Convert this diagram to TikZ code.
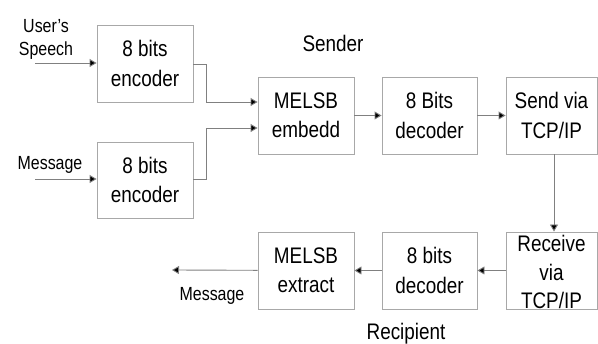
\documentclass[tikz,border=0pt]{standalone}
\usepackage{fontspec}
\setmainfont{Liberation Sans}[FakeStretch=0.84]
\usetikzlibrary{arrows.meta}
\definecolor{boxline}{gray}{0.66}
\definecolor{wire}{gray}{0.5}
\tikzset{
  blk/.style={draw=boxline, line width=0.9pt, minimum width=#1, align=center,
              font=\fontsize{22.5}{29.5}\selectfont, inner sep=0pt},
  blk/.default=96pt,
  wirearrow/.style={draw=wire, line width=0.9pt,
                    -{Triangle[length=7pt,width=8pt,fill=black]}},
  lbl/.style={font=\fontsize{19}{23}\selectfont, inner sep=0pt, align=center},
  caption/.style={font=\fontsize{22.5}{26}\selectfont, inner sep=0pt}
}
\begin{document}
\begin{tikzpicture}[x=1pt, y=-1pt]
  \useasboundingbox (0,0) rectangle (598,344);

  % sender chain
  \node[blk, minimum height=77pt] (enc1) at (145,63.5) {8 bits\\encoder};
  \node[blk, minimum height=76pt] (enc2) at (145,180) {8 bits\\encoder};
  \node[blk, minimum height=77pt] (emb) at (306,115.5) {MELSB\\embedd};
  \node[blk=95pt, minimum height=77pt] (dec1) at (429.5,115.5) {8 Bits\\decoder};
  \node[blk=91pt, minimum height=77pt] (send) at (551.5,115.5) {Send via\\TCP/IP};

  % recipient chain
  \node[blk=91pt, minimum height=77pt] (recv) at (551.5,270.5) {};
  \node[font=\fontsize{22.5}{28.5}\selectfont, align=center, inner sep=0pt] (recvtxt) at (551.5,272)
    {Receive\\via\\TCP/IP};
  \node[blk=95pt, minimum height=77pt] (dec2) at (429.5,270.5) {8 bits\\decoder};
  \node[blk, minimum height=77pt] (ext) at (306,270.5) {MELSB\\extract};

  % captions and input/output labels
  \node[caption] (sender) at (333,43) {Sender};
  \node[caption] (recipient) at (406,334) {Recipient};
  \node[lbl] (speech) at (46,39) {User's\\Speech};
  \node[lbl] (msgin) at (50,165) {Message};
  \node[lbl] (msgout) at (212,296) {Message};

  \coordinate (speechstart) at (35,63);
  \coordinate (msgstart) at (35,179);
  \coordinate (msgend) at (172,270);

  % inputs
  \draw[wirearrow] (speechstart) -- (enc1.west |- speechstart);
  \draw[wirearrow] (msgstart) -- (enc2.west |- msgstart);

  % encoders into the embedder
  \draw[wirearrow] (enc1.east |- 0,64) -- (206,64) |- (emb.west |- 0,102);
  \draw[wirearrow] (enc2.east |- 0,179) -- (206,179) |- (emb.west |- 0,128);

  % sender path
  \draw[wirearrow] (emb) -- (dec1);
  \draw[wirearrow] (dec1) -- (send);
  \draw[wirearrow] (send.south -| 554,0) -- (recv.north -| 554,0);

  % recipient path
  \draw[wirearrow] (recv) -- (dec2);
  \draw[wirearrow] (dec2) -- (ext);
  \draw[wirearrow] (ext) -- (msgend);
\end{tikzpicture}
\end{document}
